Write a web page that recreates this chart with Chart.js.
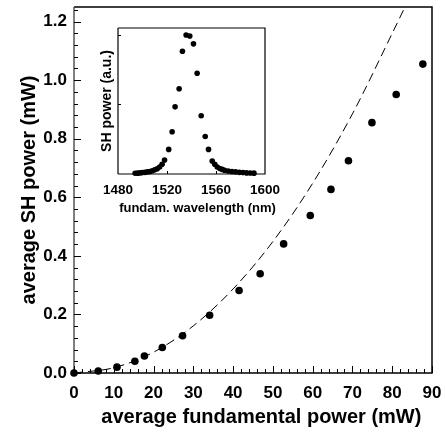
<!DOCTYPE html>
<html>
<head>
<meta charset="utf-8">
<script src="https://cdn.jsdelivr.net/npm/chart.js@4.4.1/dist/chart.umd.min.js"></script>
<style>
  html, body { margin: 0; padding: 0; background: #fff; }
  #wrap { position: relative; width: 445px; height: 434px; }
  #mainChart { position: absolute; left: 0; top: 0; }
  #insetChart { position: absolute; left: 98px; top: 20px; }
</style>
</head>
<body>
<div id="wrap">
  <canvas id="mainChart" width="445" height="434"></canvas>
  <canvas id="insetChart" width="198" height="205"></canvas>
</div>
<script>
// main plot: measured SH power vs fundamental power
const fundPower = [0, 6.1, 10.8, 15.3, 17.7, 22.2, 27.3, 34.1, 41.5, 46.8, 52.7, 59.4, 64.6, 69.0, 74.9, 81.0, 87.7];
const shPower = [0, 0.007, 0.02, 0.04, 0.058, 0.087, 0.127, 0.197, 0.282, 0.339, 0.441, 0.538, 0.627, 0.725, 0.855, 0.951, 1.055];

// dashed curve (quadratic fit)
const fitPower = [0, 10, 20, 30, 40, 50, 60, 70, 80, 83.2];
const fitSH = [0, 0.018, 0.071, 0.161, 0.287, 0.449, 0.648, 0.885, 1.16, 1.25];

// inset: SH spectrum (arbitrary units)
const wavelength = [1494, 1496, 1498, 1500, 1502, 1504, 1506, 1508, 1510, 1512, 1514, 1516,
  1518, 1521.4, 1524.2, 1526.6, 1529.9, 1532.6, 1535.6, 1538.6, 1541.6, 1544.6, 1547.9,
  1551.2, 1553.9, 1556.9, 1559, 1561, 1563, 1565, 1567, 1570, 1573, 1576, 1579, 1582, 1585, 1588, 1591];
const shSpectrum = [0.005, 0.006, 0.008, 0.01, 0.012, 0.015, 0.018, 0.023, 0.03, 0.038, 0.05, 0.07,
  0.1, 0.177, 0.304, 0.483, 0.613, 0.883, 1.0, 0.993, 0.936, 0.725, 0.419,
  0.27, 0.177, 0.093, 0.07, 0.05, 0.04, 0.033, 0.027, 0.022, 0.018, 0.015, 0.012, 0.01, 0.008, 0.007, 0.006];

// tick labels
const powerTicks = [0, 10, 20, 30, 40, 50, 60, 70, 80, 90];
const shTicks = [0, 0.2, 0.4, 0.6, 0.8, 1.0, 1.2];
const wlTicks = [1480, 1520, 1560, 1600];

const FONT = "'Liberation Sans', Arial, Helvetica, sans-serif";

// keep chart area exactly where layout.padding + fixed axis sizes put it
const fixSize = (prop, size) => s => {
  s[prop] = size;
  s.paddingTop = s.paddingBottom = s.paddingLeft = s.paddingRight = 0;
};

// box around the plot plus inward tick marks
const frameTicks = {
  id: 'frameTicks',
  beforeDatasetsDraw(chart, args, o) {
    const { ctx, chartArea: a } = chart;
    const sx = chart.scales.x, sy = chart.scales.y;
    ctx.save();
    ctx.lineWidth = o.lineWidth;
    ctx.strokeStyle = '#000';
    ctx.beginPath();
    ctx.moveTo(a.left, a.bottom);
    ctx.lineTo(a.right, a.bottom);
    ctx.lineTo(a.right, a.top);
    ctx.lineTo(a.left, a.top);
    ctx.stroke();
    ctx.strokeStyle = o.leftColor;
    ctx.beginPath();
    ctx.moveTo(a.left, a.top);
    ctx.lineTo(a.left, a.bottom);
    ctx.stroke();

    ctx.strokeStyle = '#000';
    ctx.lineWidth = 1;
    ctx.beginPath();
    const xt = (v, len) => {
      const px = Math.round(sx.getPixelForValue(v)) + 0.5;
      ctx.moveTo(px, a.bottom);
      ctx.lineTo(px, a.bottom - len);
    };
    const yt = (v, len) => {
      const py = Math.round(sy.getPixelForValue(v)) + 0.5;
      ctx.moveTo(a.left, py);
      ctx.lineTo(a.left + len, py);
    };
    o.xMajor.forEach(v => xt(v, o.majorLen));
    o.yMajor.forEach(v => yt(v, o.majorLen));
    if (o.xMinor) {
      for (let i = 0; sx.min + i * o.xMinor <= sx.max + 1e-9; i++) xt(sx.min + i * o.xMinor, o.minorLen);
    }
    if (o.yMinor) {
      for (let i = 0; sy.min + i * o.yMinor <= sy.max + 1e-9; i++) yt(sy.min + i * o.yMinor, o.minorLen);
    }
    ctx.stroke();
    ctx.restore();
  }
};

// inset x title is wider than the inset box, so it is drawn here without a max width
const insetXTitle = {
  id: 'insetXTitle',
  afterDraw(chart, args, o) {
    const { ctx, chartArea: a } = chart;
    ctx.save();
    ctx.font = o.font;
    ctx.fillStyle = '#000';
    ctx.textAlign = 'center';
    ctx.textBaseline = 'middle';
    ctx.fillText(o.text, (a.left + a.right) / 2 + o.dx, a.bottom + o.dy);
    ctx.restore();
  }
};

new Chart(document.getElementById('mainChart'), {
  type: 'scatter',
  data: {
    datasets: [
      {
        label: 'fit',
        data: fitPower.map((x, i) => ({ x: x, y: fitSH[i] })),
        showLine: true,
        borderColor: '#000',
        borderWidth: 1,
        borderDash: [9, 5],
        pointRadius: 0,
        cubicInterpolationMode: 'monotone',
        fill: false
      },
      {
        label: 'measured',
        data: fundPower.map((x, i) => ({ x: x, y: shPower[i] })),
        pointRadius: 3.8,
        backgroundColor: '#000',
        borderColor: '#000',
        borderWidth: 0,
        clip: false
      }
    ]
  },
  options: {
    responsive: false,
    animation: false,
    events: [],
    layout: { padding: { top: 7, right: 13, left: 0, bottom: 0 } },
    plugins: {
      legend: { display: false },
      tooltip: { enabled: false },
      frameTicks: {
        lineWidth: 1.5, leftColor: '#555',
        xMajor: powerTicks, yMajor: shTicks,
        xMinor: 2, yMinor: 0.04,
        majorLen: 7, minorLen: 4
      }
    },
    scales: {
      x: {
        type: 'linear', min: 0, max: 90,
        afterBuildTicks: s => { s.ticks = powerTicks.map(v => ({ value: v })); },
        afterFit: fixSize('height', 61),
        grid: { display: false, drawTicks: false },
        border: { display: false },
        ticks: { color: '#000', font: { family: FONT, size: 17, weight: 'bold' }, padding: 10, maxRotation: 0, callback: v => String(v) },
        title: {
          display: true, text: '   average fundamental power (mW)', color: '#000',
          font: { family: FONT, size: 20, weight: 'bold' }, padding: { top: 0, bottom: 5 }
        }
      },
      y: {
        type: 'linear', min: 0, max: 1.25,
        afterBuildTicks: s => { s.ticks = shTicks.map(v => ({ value: v })); },
        afterFit: fixSize('width', 74),
        grid: { display: false, drawTicks: false },
        border: { display: false },
        ticks: { color: '#000', font: { family: FONT, size: 17, weight: 'bold' }, padding: 7, callback: v => v.toFixed(1) },
        title: {
          display: true, text: 'average SH power (mW)', color: '#000',
          font: { family: FONT, size: 20, weight: 'bold' }, padding: { top: 17, bottom: 0 }
        }
      }
    }
  },
  plugins: [frameTicks]
});

new Chart(document.getElementById('insetChart'), {
  type: 'scatter',
  data: {
    datasets: [{
      label: 'spectrum',
      data: wavelength.map((x, i) => ({ x: x, y: shSpectrum[i] })),
      pointRadius: 2.8,
      backgroundColor: '#000',
      borderColor: '#000',
      borderWidth: 0,
      clip: false
    }]
  },
  options: {
    responsive: false,
    animation: false,
    events: [],
    layout: { padding: { top: 8, right: 31, left: 0, bottom: 0 } },
    plugins: {
      legend: { display: false },
      tooltip: { enabled: false },
      insetXTitle: { text: 'fundam. wavelength (nm)', font: "bold 13px " + FONT, dx: 6, dy: 34 },
      frameTicks: {
        lineWidth: 1.2, leftColor: '#000',
        xMajor: [1520, 1560], yMajor: [0.5, 1.0],
        xMinor: 0, yMinor: 0,
        majorLen: 3, minorLen: 0
      }
    },
    scales: {
      x: {
        type: 'linear', min: 1480, max: 1600,
        afterBuildTicks: s => { s.ticks = wlTicks.map(v => ({ value: v })); },
        afterFit: fixSize('height', 51),
        grid: { display: false, drawTicks: false },
        border: { display: false },
        ticks: { color: '#000', font: { family: FONT, size: 13.5, weight: 'bold' }, padding: 8, maxRotation: 0, callback: v => String(v) }
      },
      y: {
        type: 'linear', min: 0, max: 1.05,
        afterFit: fixSize('width', 20),
        grid: { display: false, drawTicks: false },
        border: { display: false },
        ticks: { display: false },
        title: {
          display: true, text: 'SH power (a.u.)', color: '#000',
          font: { family: FONT, size: 14, weight: 'bold' }, padding: { top: 1, bottom: 0 }
        }
      }
    }
  },
  plugins: [frameTicks, insetXTitle]
});
</script>
</body>
</html>
